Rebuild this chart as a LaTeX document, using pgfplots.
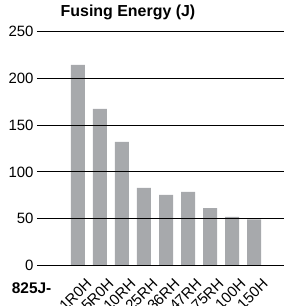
\documentclass[border=0pt]{standalone}
\usepackage{pgfplots}
\pgfplotsset{compat=1.18}
\usepackage{fontspec}
\setmainfont{Liberation Sans}
\definecolor{bargray}{RGB}{167,169,172}
\begin{document}
\begin{tikzpicture}[x=1bp,y=1bp]
\path[use as bounding box] (-37,-40.7) rectangle (247,265.3);
\clip (-37,-40.7) rectangle (247,265.3);
\begin{axis}[
  at={(0,0)}, anchor=south west,
  scale only axis, width=247bp, height=233.6bp,
  xmin=-1.86, xmax=9.36, ymin=0, ymax=250,
  ytick={0,50,100,150,200,250},
  xtick={0,...,8},
  xticklabels={1R0H,5R0H,10RH,25RH,36RH,47RH,75RH,100H,150H},
  ymajorgrids, grid style={black, line width=0.8bp},
  axis line style={draw=none}, tick style={draw=none},
  axis on top,
  ybar, bar width=14bp,
  /pgf/number format/assume math mode=true,
  ticklabel style={font=\fontsize{15}{18}\selectfont},
  yticklabel style={anchor=east, xshift=0bp},
  xticklabel style={rotate=45, anchor=east, xshift=3bp, yshift=-16bp},
]
\addplot[fill=bargray, draw=none] coordinates {
(0,214.5) (1,167.3) (2,132) (3,82.8) (4,75.3) (5,78.5) (6,61.3) (7,51.7) (8,49.2)};
\end{axis}
\node[anchor=base, font=\bfseries\fontsize{16}{19}\selectfont] at (91,249.3) {Fusing Energy (J)};
\node[anchor=base west, inner sep=0pt, font=\bfseries\fontsize{15.5}{18}\selectfont] at (-25.3,-27.7) {825J-};
\end{tikzpicture}
\end{document}
